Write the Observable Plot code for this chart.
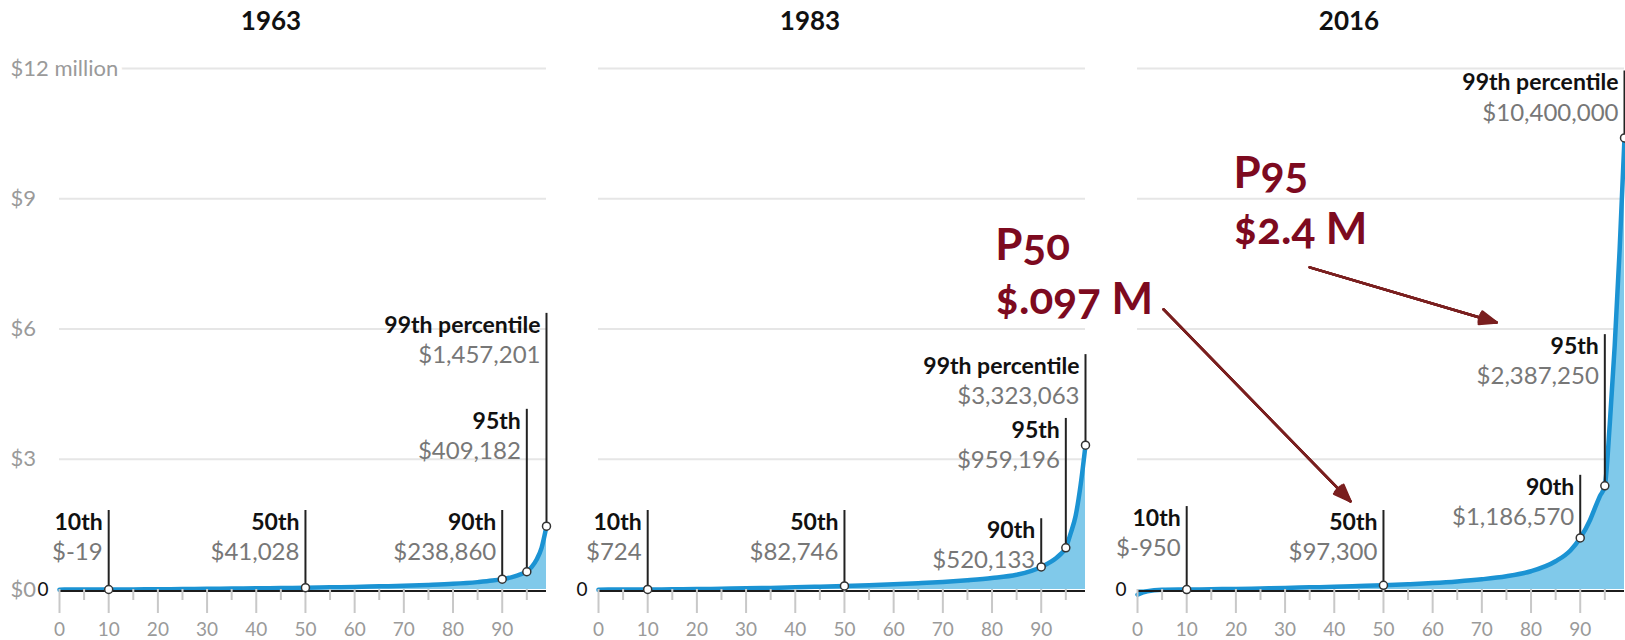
<!DOCTYPE html>
<html><head><meta charset="utf-8">
<script src="https://cdn.jsdelivr.net/npm/d3@7"></script>
<script src="https://cdn.jsdelivr.net/npm/@observablehq/plot@0.6"></script>
<style>
html,body{margin:0;padding:0;background:#fff;}
#chart{width:1625px;height:640px;overflow:hidden;}
</style></head><body><div id="chart"></div>
<script>
// ---- data ----
const years = ["1963", "1983", "2016"];
const percentiles = [0,2,5,10,15,20,25,30,35,40,45,50,55,60,65,70,75,80,85,88,90,92,93,94,95,96,97,98,99];
const wealth1963 = [-3000,-1500,-600,-19,2500,6000,10500,15000,20500,26500,33500,41028,50000,60000,72000,85000,105000,130000,170000,205000,238860,285000,318000,358000,409182,520000,690000,960000,1457201];
const wealth1983 = [-8000,-2000,0,724,4000,9500,17000,26000,37000,50000,65000,82746,100000,120000,145000,175000,215000,265000,340000,430000,520133,640000,720000,820000,959196,1300000,1700000,2400000,3323063];
const wealth2016 = [-120000,-40000,-8000,-950,6000,14000,24000,36000,49000,63000,79000,97300,120000,148000,185000,235000,305000,420000,650000,900000,1186570,1600000,1880000,2150000,2387250,3800000,5600000,7800000,10400000];

const calloutPct = [10, 50, 90, 95, 99];
const calloutNames = ["10th", "50th", "90th", "95th", "99th percentile"];
const callout1963 = [-19, 41028, 238860, 409182, 1457201];
const callout1983 = [724, 82746, 520133, 959196, 3323063];
const callout2016 = [-950, 97300, 1186570, 2387250, 10400000];
// height (in dollars) where each callout line ends
const calloutTop1963 = [1.82e6, 1.82e6, 1.82e6, 4.15e6, 6.36e6];
const calloutTop1983 = [1.82e6, 1.82e6, 1.63e6, 3.94e6, 5.41e6];
const calloutTop2016 = [1.91e6, 1.82e6, 2.63e6, 5.87e6, 11.94e6];

const yTicks = [0, 3e6, 6e6, 9e6, 12e6];
const yTickLabels = ["$0", "$3", "$6", "$9", "$12 million"];
const xTicks = d3.range(0, 100, 10);
const xMinorTicks = d3.range(5, 100, 10);

// annotations drawn on the 2016 panel (data units)
const noteText = ["P50", "$.097 M", "P95", "$2.4 M"];
const noteX = [-28.9, -28.9, 19.5, 19.5];
const noteY = [7.6e6, 6.35e6, 9.25e6, 7.95e6];
const arrowX1 = [5.3, 35.0];
const arrowY1 = [6.45e6, 7.42e6];
const arrowX2 = [43.3, 73.0];
const arrowY2 = [2.03e6, 6.15e6];

// ---- tables ----
const series = [wealth1963, wealth1983, wealth2016];
const callVals = [callout1963, callout1983, callout2016];
const callTops = [calloutTop1963, calloutTop1983, calloutTop2016];
const rows = years.flatMap((yr, i) => percentiles.map((p, j) => ({year: yr, p, v: series[i][j]})));
const calls = years.flatMap((yr, i) => calloutPct.map((p, j) => ({
  year: yr, p, v: callVals[i][j], top: callTops[i][j], name: calloutNames[j],
  label: "$" + callVals[i][j].toLocaleString("en-US")
})));
const notes = noteText.map((t, i) => ({t, x: noteX[i], y: noteY[i]}));
const arrows = arrowX1.map((x1, i) => ({x1, y1: arrowY1[i], x2: arrowX2[i], y2: arrowY2[i]}));
const yLab = yTicks.map((v, i) => ({v, t: yTickLabels[i]}));

const FONT = "Lato, sans-serif";
const noteColor = "#7d0a1f";
const arrowColor = "#7a1f1f";

const arrowMarks = [42, 30, 18, 6].map(a => Plot.arrow(arrows, {
  x1: "x1", y1: "y1", x2: "x2", y2: "y2", fx: () => "2016",
  stroke: arrowColor, strokeWidth: 2.5, headLength: 10.8, headAngle: a
}));

const chart = Plot.plot({
  width: 1625,
  height: 640,
  marginLeft: 59,
  marginRight: 1,
  marginTop: 68,
  marginBottom: 51,
  style: {fontFamily: FONT, background: "white", overflow: "visible"},
  fx: {domain: years, paddingInner: 0.0965, paddingOuter: 0, axis: null, label: null, round: false},
  x: {domain: [0, 99], axis: null, label: null},
  y: {domain: [0, 12e6], axis: null, label: null},
  marks: [
    Plot.ruleY(yTicks.slice(1), {stroke: "#e6e6e6", strokeWidth: 2}),
    Plot.areaY(rows, {x: "p", y: "v", fx: "year", fill: "#80c9ea", curve: "monotone-x"}),
    Plot.lineY(rows, {x: "p", y: "v", fx: "year", stroke: "#1b93d3", strokeWidth: 4.5, curve: "monotone-x"}),
    Plot.ruleY([0], {stroke: "#1c1c1c", strokeWidth: 2, dy: 1.5}),
    Plot.axisX(xTicks, {tickSize: 24, tickPadding: 9, stroke: "#c8c8c8", strokeWidth: 2, fill: "#9a9a9a", fontSize: 19, label: null, tickFormat: d => String(d)}),
    Plot.axisX(xMinorTicks, {tickSize: 11, stroke: "#c8c8c8", strokeWidth: 2, label: null, tickFormat: () => ""}),
    Plot.ruleX(calls, {x: "p", y1: "v", y2: "top", fx: "year", stroke: "#222", strokeWidth: 2}),
    Plot.dot(calls, {x: "p", y: "v", fx: "year", r: 4, fill: "white", stroke: "#333", strokeWidth: 1.5}),
    Plot.text(calls, {x: "p", y: "top", fx: "year", text: "name", textAnchor: "end", lineAnchor: "middle", dx: -6, dy: 12, fontWeight: "bold", fontSize: 23, fill: "#111"}),
    Plot.text(calls, {x: "p", y: "top", fx: "year", text: "label", textAnchor: "end", lineAnchor: "middle", dx: -6, dy: 42, fontSize: 24, fill: "#777"}),
    Plot.text(yLab, {y: "v", fx: () => "1963", text: "t", frameAnchor: "left", textAnchor: "start", lineAnchor: "middle", dx: -49, fontSize: 22, fill: "#9a9a9a", stroke: "white", strokeWidth: 10, paintOrder: "stroke"}),
    Plot.text([0], {y: d => d, frameAnchor: "left", text: () => "0", textAnchor: "end", lineAnchor: "middle", dx: -11, fontSize: 19, fill: "#111"}),
    Plot.text(years, {fx: d => d, text: d => d, frameAnchor: "top", lineAnchor: "middle", dy: -47, dx: -32, fontWeight: "bold", fontSize: 26, fill: "#111"}),
    ...arrowMarks,
    Plot.text(notes, {x: "x", y: "y", fx: () => "2016", text: "t", textAnchor: "start", lineAnchor: "bottom", fontSize: 44, fontWeight: "bold", fill: noteColor, fontVariant: "oldstyle-nums"})
  ]
});
document.getElementById("chart").appendChild(chart);
</script>
</body></html>
